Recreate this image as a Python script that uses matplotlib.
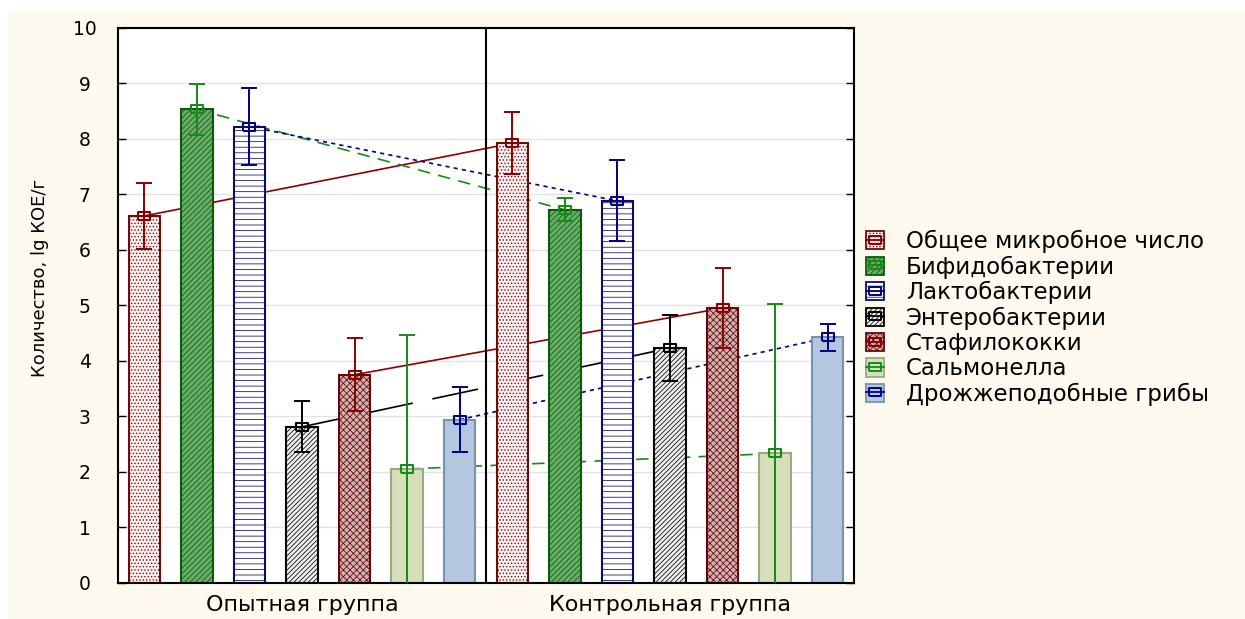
import matplotlib
matplotlib.use("Agg")
import matplotlib.pyplot as plt
from matplotlib.patches import Patch, Rectangle
from matplotlib.lines import Line2D
from matplotlib import font_manager

# ---- data -------------------------------------------------------------
groups = ["Опытная группа", "Контрольная группа"]
series = ["Общее микробное число", "Бифидобактерии", "Лактобактерии",
          "Энтеробактерии", "Стафилококки", "Сальмонелла",
          "Дрожжеподобные грибы"]
opyt = [6.61, 8.53, 8.22, 2.81, 3.75, 2.05, 2.94]
opyt_err = [0.60, 0.46, 0.70, 0.46, 0.66, 2.41, 0.59]
kontrol = [7.92, 6.72, 6.88, 4.23, 4.95, 2.33, 4.42]
kontrol_err = [0.56, 0.21, 0.73, 0.59, 0.72, 2.69, 0.25]
y_ticks = list(range(0, 11))

# ---- styles -----------------------------------------------------------
face = ["#f6ecec", "#6aad6a", "#ffffff", "#efefef", "#d2b0b0", "#d5e0bb", "#b4c7e1"]
edge = ["#6e0c0c", "#0b5a0b", "#0c0c66", "#000000", "#600a0a", "#9ba886", "#7d91ab"]
hatch = [".....", "//////", "---", "///////", "xxxxx", None, None]
lcol = ["#8b0000", "#168a16", "#000080", "#000000", "#8b0000", "#168a16", "#000080"]
lsty = ["-", (0, (7.5, 5)), (0, (2.5, 2.5)), (0, (28, 12)), "-", (0, (7.5, 5)), (0, (2.5, 2.5))]

plt.rcParams["hatch.linewidth"] = 0.55
base_font = "DejaVu Sans"
names = {f.name for f in font_manager.fontManager.ttflist}
narrow = "Liberation Sans Narrow" if "Liberation Sans Narrow" in names else base_font

rect_marker = [(-1.6, -1), (1.6, -1), (1.6, 1), (-1.6, 1), (-1.6, -1)]

W, H = 1245, 619
fig = plt.figure(figsize=(W / 100, H / 100), dpi=100, facecolor="white")
fig.patches.append(Rectangle((8 / W, 0), 1, 1 - 12 / H, transform=fig.transFigure,
                             facecolor="#fef9ee", edgecolor="none", zorder=-10))

ax = fig.add_axes([118 / W, 1 - 582.8 / H, (854 - 118) / W, (582.8 - 27.8) / H])
ax.set_facecolor("white")
ax.set_xlim(0, 14)
ax.set_ylim(0, 10)

n = len(series)
for i in range(n):
    xs = [i + 0.5, n + i + 0.5]
    vals = [opyt[i], kontrol[i]]
    errs = [opyt_err[i], kontrol_err[i]]
    ax.plot(xs, vals, color=lcol[i], ls=lsty[i], lw=1.2, zorder=1.5)
    ax.bar(xs, vals, width=0.6, color=face[i], edgecolor=edge[i], hatch=hatch[i],
           lw=1.5, zorder=2)
    ax.errorbar(xs, vals, yerr=errs, fmt="none", ecolor=lcol[i], elinewidth=1.4,
                capsize=5.8, capthick=1.4, zorder=3)
    ax.plot(xs, vals, ls="none", marker=rect_marker, ms=9, mfc="none",
            mec=lcol[i], mew=1.5, zorder=4)

ax.axvline(n, color="black", lw=1.5, zorder=2.5)

ax.set_yticks(y_ticks)
ax.yaxis.grid(True, color="#e2e2e2", lw=1)
ax.set_axisbelow(True)
ax.tick_params(axis="y", direction="in", length=6, right=True, pad=24,
               labelsize=13.5, width=1)
for lab in ax.get_yticklabels():
    lab.set_horizontalalignment("center")
    lab.set_fontfamily(base_font)

ax.set_xticks([n / 2, n + n / 2])
ax.set_xticklabels(groups, fontsize=16, fontfamily=base_font)
ax.tick_params(axis="x", direction="in", length=5, pad=9, width=1)

for s in ax.spines.values():
    s.set_linewidth(1.5)
    s.set_color("black")

fig.text(40 / W, 1 - 278 / H, "Количество, lg КОЕ/г", rotation=90, ha="center",
         va="center", fontsize=13, fontfamily=narrow)

handles = []
for i in range(n):
    p = Patch(facecolor=face[i], edgecolor=edge[i], hatch=hatch[i], lw=1.3)
    m = Line2D([], [], color=lcol[i], lw=1.3, marker=rect_marker, ms=9,
               mfc="none", mec=lcol[i], mew=1.4)
    handles.append((p, m))

fig.legend(handles, series, loc="upper left", bbox_to_anchor=(866 / W, 1 - 230 / H),
           frameon=False, borderpad=0, borderaxespad=0, handlelength=0.8,
           handleheight=0.85, handletextpad=0.95, labelspacing=0.1,
           prop={"family": base_font, "size": 16.5})

fig.savefig("out.png", dpi=100, facecolor=fig.get_facecolor())
